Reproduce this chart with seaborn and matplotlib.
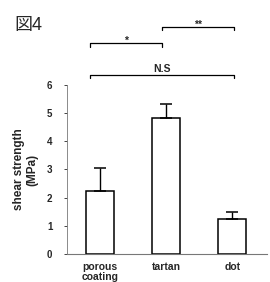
import matplotlib
matplotlib.use("Agg")
import matplotlib.pyplot as plt
import seaborn as sns
import pandas as pd

# data
groups = ["porous\ncoating", "tartan", "dot"]
means = [2.23, 4.83, 1.24]
sds = [0.83, 0.49, 0.25]

df = pd.DataFrame({"group": groups, "shear": means})

sns.set_style("ticks")
plt.rcParams["font.family"] = ["Liberation Sans", "Noto Sans CJK JP", "DejaVu Sans"]

fig = plt.figure(figsize=(2.7, 2.82), dpi=100)
ax = fig.add_axes([0.248, 0.099, 0.742, 0.6])

sns.barplot(data=df, x="group", y="shear", color="white", edgecolor="black",
            linewidth=1.1, width=0.43, ax=ax)
ax.errorbar(range(len(groups)), means, yerr=[[0] * len(sds), sds], fmt="none",
            ecolor="black", elinewidth=1.0, capsize=4, capthick=1.1)

ax.set_xlim(-0.5, 2.53)
ax.set_ylim(0, 6)
ax.set_yticks(range(7))
ax.set_yticklabels([str(i) for i in range(7)], fontsize=7, fontweight="bold")
ax.set_xticks(range(len(groups)))
ax.set_xticklabels(groups, fontsize=7.5, fontweight="bold", linespacing=0.95)
ax.tick_params(axis="x", length=0, pad=6)
ax.tick_params(axis="y", length=2.5, width=0.6, pad=8)
ax.set_xlabel("")
ax.set_ylabel("shear strength\n(MPa)", fontsize=8.5, fontweight="bold", labelpad=6)
sns.despine(ax=ax)
ax.spines["left"].set_linewidth(0.6)
ax.spines["left"].set_color("#777777")
ax.spines["bottom"].set_linewidth(0.8)
ax.spines["bottom"].set_color("#777777")

# significance brackets
def bracket(x0, x1, y, label, ty):
    ax.plot([x0, x0, x1, x1], [y - 0.12, y, y, y - 0.12], color="black",
            lw=0.9, clip_on=False)
    ax.text((x0 + x1) / 2, y + ty, label, ha="center", va="bottom",
            fontsize=7.5, fontweight="bold", clip_on=False)

bracket(-0.15, 0.94, 7.48, "*", -0.1)
bracket(0.94, 2.02, 8.05, "**", -0.1)
bracket(-0.15, 2.02, 6.35, "N.S", 0.02)

fig.text(0.052, 0.88, "図4", fontsize=13, ha="left", va="bottom")

fig.savefig("out.png", dpi=100)
